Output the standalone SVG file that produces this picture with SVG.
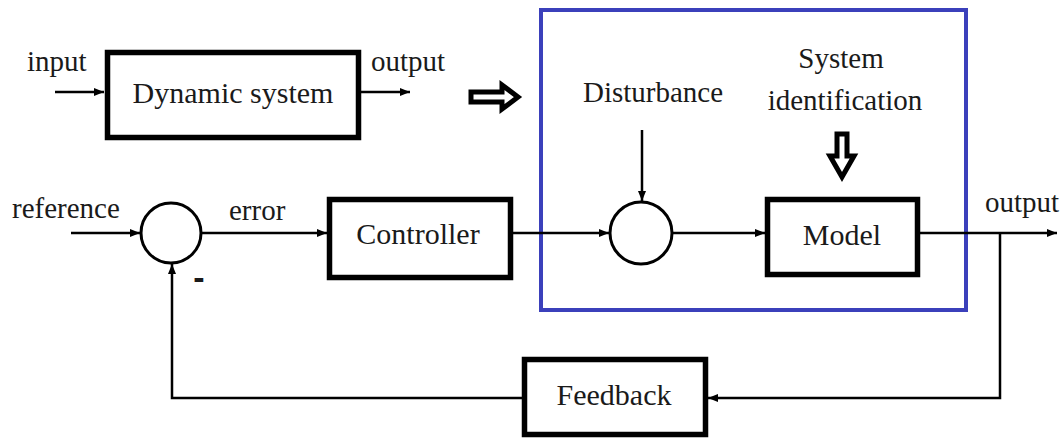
<svg xmlns="http://www.w3.org/2000/svg" width="1063" height="438" viewBox="0 0 1063 438" font-family="'Liberation Serif', 'Times New Roman', serif">
  <style>
    .box { fill: #ffffff; stroke: #000000; stroke-width: 5.5; }
    .sum { fill: #ffffff; stroke: #000000; stroke-width: 3; }
    .arr { fill: none; stroke: #000000; stroke-width: 2.5; marker-end: url(#ah); }
    .hollow { fill: #ffffff; stroke: #000000; stroke-width: 5; stroke-linejoin: miter; }
    text { font-family: 'Liberation Serif', 'Times New Roman', serif; fill: #1a1a1a; }
    .lbl { font-size: 29px; }
    .bt { font-size: 30px; text-anchor: middle; }
    .mid { text-anchor: middle; }
    .blue { fill: none; stroke: #3b40bb; stroke-width: 4; }
  </style>
  <defs>
    <marker id="ah" viewBox="0 0 10 8" refX="10" refY="4" markerWidth="10" markerHeight="8" markerUnits="userSpaceOnUse" orient="auto">
      <path d="M0,0 L10,4 L0,8 Z" fill="#000000"/>
    </marker>
  </defs>
  <rect width="1063" height="438" fill="#ffffff"/>

  <g id="region-identification">
    <rect class="blue" x="541" y="10" width="425" height="300"/>
  </g>

  <g id="connectors">
    <line class="arr" x1="55" y1="92" x2="104" y2="92"/>
    <line class="arr" x1="361" y1="92" x2="410" y2="92"/>
    <line class="arr" x1="71" y1="233" x2="140" y2="233"/>
    <line class="arr" x1="201" y1="233" x2="327" y2="233"/>
    <line class="arr" x1="513" y1="233" x2="609" y2="233"/>
    <line class="arr" x1="672" y1="233" x2="765" y2="233"/>
    <line class="arr" x1="920" y1="233" x2="1057" y2="233"/>
    <line class="arr" x1="642" y1="130" x2="642" y2="201"/>
    <polyline class="arr" points="1000,233 1000,398 708,398"/>
    <polyline class="arr" points="522,398 172,398 172,264"/>
    <polygon class="hollow" points="471,92 502,92 502,85 518,97 502,109 502,102 471,102"/>
    <polygon class="hollow" points="837,134 847,134 847,156 854,156 842,177 830,156 837,156"/>
  </g>

  <g id="input-label"><text class="lbl" x="27" y="71">input</text></g>
  <g id="dynamic-system">
    <rect class="box" x="107.5" y="52.5" width="251" height="85"/>
    <text class="bt" x="233" y="103">Dynamic system</text>
  </g>
  <g id="output-label-top"><text class="lbl" x="371" y="71">output</text></g>

  <g id="reference-label"><text class="lbl" x="12" y="218">reference</text></g>
  <g id="sum1">
    <circle class="sum" cx="171" cy="233" r="30"/>
  </g>
  <g id="minus-label"><text x="199" y="289" style="font-family: 'Liberation Sans', Arial, sans-serif; font-size: 34px; font-weight: bold; text-anchor: middle;">-</text></g>
  <g id="error-label"><text class="lbl" x="229" y="220">error</text></g>
  <g id="controller">
    <rect class="box" x="329.5" y="199.5" width="181" height="78"/>
    <text class="bt" x="418" y="244">Controller</text>
  </g>

  <g id="disturbance-label"><text class="lbl mid" x="653" y="102">Disturbance</text></g>
  <g id="sum2">
    <circle class="sum" cx="641" cy="233" r="31"/>
  </g>
  <g id="system-identification-label">
    <text class="lbl mid" x="841" y="68">System</text>
    <text class="lbl mid" x="845" y="110">identification</text>
  </g>
  <g id="model">
    <rect class="box" x="767.5" y="199.5" width="150" height="75"/>
    <text class="bt" x="842" y="245">Model</text>
  </g>
  <g id="output-label-right"><text class="lbl" x="985" y="212">output</text></g>

  <g id="feedback">
    <rect class="box" x="524.5" y="359.5" width="181" height="75"/>
    <text class="bt" x="614" y="405">Feedback</text>
  </g>
</svg>
